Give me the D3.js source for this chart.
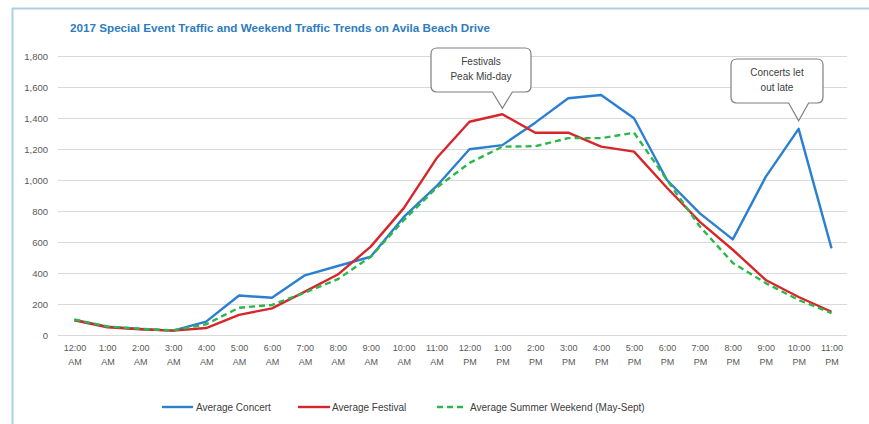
<!DOCTYPE html>
<html>
<head>
<meta charset="utf-8">
<script src="https://cdn.jsdelivr.net/npm/d3@7"></script>
<style>
  html, body { margin: 0; padding: 0; background: #fff; }
  svg { display: block; font-family: "Liberation Sans", Arial, sans-serif; }
</style>
</head>
<body>
<svg id="chart" width="869" height="424"></svg>
<script>
const hours = ["12:00 AM","1:00 AM","2:00 AM","3:00 AM","4:00 AM","5:00 AM","6:00 AM","7:00 AM","8:00 AM","9:00 AM","10:00 AM","11:00 AM",
               "12:00 PM","1:00 PM","2:00 PM","3:00 PM","4:00 PM","5:00 PM","6:00 PM","7:00 PM","8:00 PM","9:00 PM","10:00 PM","11:00 PM"];
const concert  = [97, 54, 39, 28, 86, 255, 240, 385, 445, 505, 760, 960, 1198, 1225, 1370, 1527, 1548, 1398, 1000, 785, 617, 1020, 1330, 559];
const festival = [95, 50, 37, 28, 45, 130, 172, 280, 390, 570, 817, 1140, 1376, 1424, 1305, 1305, 1215, 1183, 950, 730, 550, 355, 245, 150];
const weekend  = [100, 55, 40, 30, 69, 176, 194, 273, 360, 505, 740, 950, 1110, 1215, 1218, 1270, 1270, 1305, 1000, 700, 465, 335, 226, 141];
const yTicks = [0, 200, 400, 600, 800, 1000, 1200, 1400, 1600, 1800];
const seriesNames = ["Average Concert", "Average Festival", "Average Summer Weekend (May-Sept)"];
const title = "2017 Special Event Traffic and Weekend Traffic Trends on Avila Beach Drive";

const svg = d3.select("#chart");
const colors = ["#2a7fd0", "#d7262b", "#2bb84a"];

// frame
svg.append("line").attr("x1", 12).attr("x2", 869).attr("y1", 8.5).attr("y2", 8.5).attr("stroke", "#a9cfe8").attr("stroke-width", 2);
svg.append("line").attr("x1", 12.5).attr("x2", 12.5).attr("y1", 8).attr("y2", 424).attr("stroke", "#a9cfe8").attr("stroke-width", 2);

// title
svg.append("text").attr("x", 70).attr("y", 32).attr("fill", "#2e7cbf")
  .attr("font-size", 10.5).attr("font-weight", "bold").attr("textLength", 420).attr("lengthAdjust", "spacingAndGlyphs")
  .text(title);

const x = d3.scalePoint().domain(hours).range([58, 848]).padding(0.5);
const y = d3.scaleLinear().domain([0, 1800]).range([335, 56]);

// grid
const yAxis = d3.axisLeft(y).tickValues(yTicks).tickSize(-(847 - 58)).tickPadding(10).tickFormat(d3.format(","));
const gy = svg.append("g").attr("transform", "translate(58,0)").call(yAxis);
gy.select(".domain").remove();
gy.selectAll(".tick line").attr("stroke", "#d9d9d9").attr("stroke-width", 1);
gy.selectAll(".tick text").attr("fill", "#595959").attr("font-size", 9.5).attr("font-family", "Liberation Sans, Arial, sans-serif");

// x axis labels
const xAxis = d3.axisBottom(x).tickSize(0).tickPadding(0);
const gx = svg.append("g").attr("transform", "translate(0,0)").call(xAxis);
gx.select(".domain").remove();
gx.selectAll(".tick text").attr("fill", "#595959").attr("font-size", 9).attr("font-family", "Liberation Sans, Arial, sans-serif")
  .attr("y", 0).attr("dy", null)
  .text(null)
  .each(function(d) {
    const parts = d.split(" ");
    const t = d3.select(this);
    t.append("tspan").attr("x", 0).attr("y", 350.5).text(parts[0]);
    t.append("tspan").attr("x", 0).attr("y", 364.5).text(parts[1]);
  });

// lines
const line = d3.line().x((d, i) => x(hours[i])).y(d => y(d));
const data = [concert, festival, weekend];
data.forEach((s, k) => {
  svg.append("path").datum(s).attr("d", line).attr("fill", "none")
    .attr("stroke", colors[k]).attr("stroke-width", 2.4)
    .attr("stroke-linejoin", "round")
    .attr("stroke-dasharray", k === 2 ? "6,4" : null);
});

// callouts
function callout(cx, tipX, tipY, boxTop, boxW, boxH, lines) {
  const left = cx - boxW / 2, right = cx + boxW / 2, bottom = boxTop + boxH, r = 6;
  const b1 = tipX - 10, b2 = tipX + 10;
  const p = d3.path();
  p.moveTo(left + r, boxTop);
  p.lineTo(right - r, boxTop);
  p.quadraticCurveTo(right, boxTop, right, boxTop + r);
  p.lineTo(right, bottom - r);
  p.quadraticCurveTo(right, bottom, right - r, bottom);
  p.lineTo(b2, bottom);
  p.lineTo(tipX, tipY);
  p.lineTo(b1, bottom);
  p.lineTo(left + r, bottom);
  p.quadraticCurveTo(left, bottom, left, bottom - r);
  p.lineTo(left, boxTop + r);
  p.quadraticCurveTo(left, boxTop, left + r, boxTop);
  p.closePath();
  svg.append("path").attr("d", p.toString()).attr("fill", "#fff").attr("stroke", "#7f7f7f").attr("stroke-width", 1.2);
  lines.forEach((t, i) => {
    svg.append("text").attr("x", cx).attr("y", boxTop + 17 + i * 15).attr("text-anchor", "middle")
      .attr("font-size", 10).attr("fill", "#404040").text(t);
  });
}
callout(481, x("1:00 PM"), y(festival[13]) - 6, 48, 100, 44, ["Festivals", "Peak Mid-day"]);
callout(777, x("10:00 PM"), y(concert[22]) - 8, 59, 92, 44, ["Concerts let", "out late"]);

// legend
const legendItems = [
  { x: 162, tx: 196, name: seriesNames[0], k: 0, w: 31 },
  { x: 298, tx: 332, name: seriesNames[1], k: 1, w: 32 },
  { x: 437, tx: 470, name: seriesNames[2], k: 2, w: 27 }
];
legendItems.forEach(it => {
  svg.append("line").attr("x1", it.x).attr("x2", it.x + it.w).attr("y1", 407).attr("y2", 407)
    .attr("stroke", colors[it.k]).attr("stroke-width", 2.4)
    .attr("stroke-dasharray", it.k === 2 ? "6,4" : null);
  svg.append("text").attr("x", it.tx).attr("y", 410.5).attr("font-size", 10).attr("fill", "#404040").text(it.name);
});
</script>
</body>
</html>
